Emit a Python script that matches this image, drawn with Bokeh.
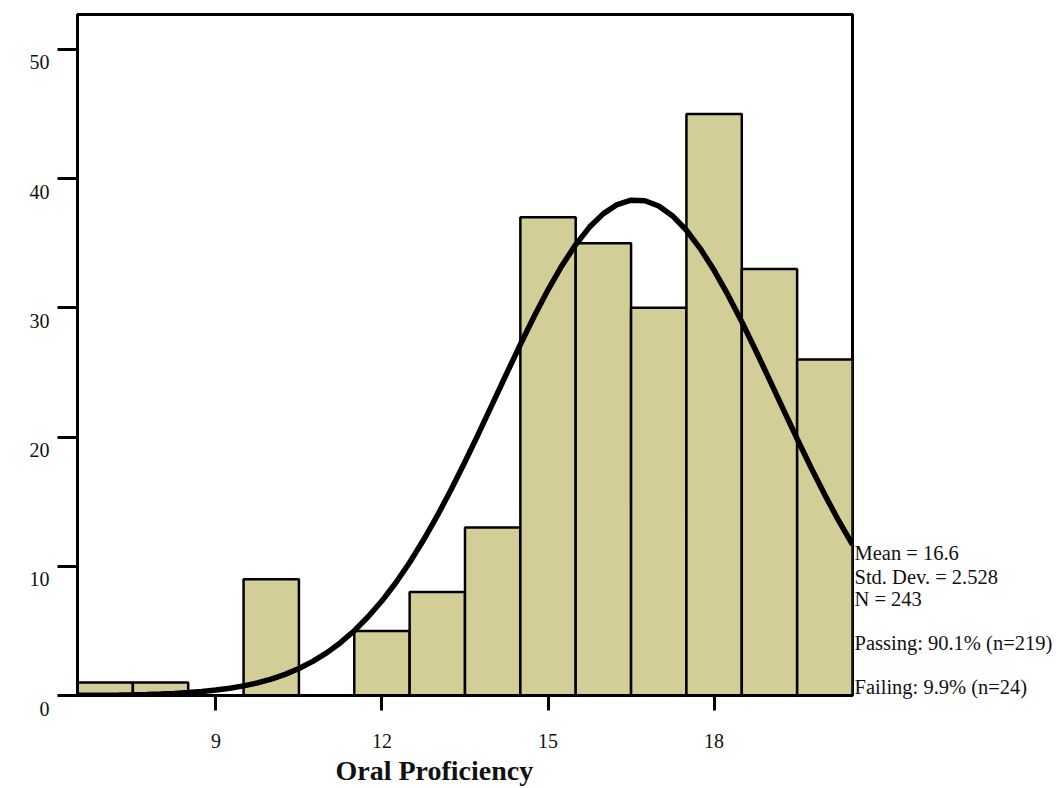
from bokeh.plotting import figure
from bokeh.models import Range1d, FixedTicker, ColumnDataSource, LinearAxis, Title
from bokeh.embed import file_html
from bokeh.resources import INLINE

# ---- data ----
bin_centers = [7, 8, 9, 10, 11, 12, 13, 14, 15, 16, 17, 18, 19, 20]
counts = [1, 1, 0, 9, 0, 5, 8, 13, 37, 35, 30, 45, 33, 26]

curve_x = [6.5, 6.75, 7.0, 7.25, 7.5, 7.75, 8.0, 8.25, 8.5, 8.75, 9.0, 9.25, 9.5, 9.75,
           10.0, 10.25, 10.5, 10.75, 11.0, 11.25, 11.5, 11.75, 12.0, 12.25, 12.5, 12.75,
           13.0, 13.25, 13.5, 13.75, 14.0, 14.25, 14.5, 14.75, 15.0, 15.25, 15.5, 15.75,
           16.0, 16.25, 16.5, 16.75, 17.0, 17.25, 17.5, 17.75, 18.0, 18.25, 18.5, 18.75,
           19.0, 19.25, 19.5, 19.75, 20.0, 20.25, 20.5]
curve_y = [0.013, 0.019, 0.028, 0.041, 0.059, 0.084, 0.118, 0.164, 0.226, 0.309, 0.418,
           0.560, 0.743, 0.976, 1.270, 1.636, 2.087, 2.637, 3.298, 4.085, 5.012, 6.089,
           7.326, 8.727, 10.294, 12.026, 13.913, 15.939, 18.081, 20.314, 22.599, 24.896,
           27.160, 29.342, 31.390, 33.254, 34.886, 36.242, 37.285, 37.984, 38.320, 38.283,
           37.873, 37.103, 35.995, 34.580, 32.898, 30.993, 28.913, 26.710, 24.437, 22.139,
           19.862, 17.645, 15.524, 13.524, 11.667]

x_ticks = [9, 12, 15, 18]
y_ticks = [0, 10, 20, 30, 40, 50]

x_title = "Oral Proficiency"
stats_lines = ["Mean = 16.6", "Std. Dev. = 2.528", "N = 243",
               "Passing: 90.1% (n=219)", "Failing: 9.9% (n=24)"]
stats_at = [10.99, 9.18, 7.46, 4.08, 0.67]   # vertical anchor of each stats line (count units)

FONT = "Liberation Serif"
BAR = "#D3CE98"
INK = "#111111"

p = figure(frame_width=775, frame_height=681,
           min_border_left=77, min_border_right=204,
           min_border_top=14, min_border_bottom=93,
           x_range=Range1d(6.5, 20.5), y_range=Range1d(0, 52.69),
           output_backend="svg", toolbar_location=None,
           background_fill_color="white", border_fill_color="white")

p.xgrid.visible = False
p.ygrid.visible = False
p.outline_line_color = "black"
p.outline_line_width = 3

src = ColumnDataSource(dict(
    left=[c - 0.5 for c in bin_centers],
    right=[c + 0.5 for c in bin_centers],
    top=counts,
    bottom=[0] * len(counts),
))
p.quad(left="left", right="right", top="top", bottom="bottom", source=src,
       fill_color=BAR, line_color="black", line_width=2.5)

p.line(curve_x, curve_y, line_color="black", line_width=5.5)

# x axis
xa = p.xaxis[0]
xa.ticker = FixedTicker(ticks=x_ticks)
xa.minor_tick_line_color = None
xa.major_tick_out = 15
xa.major_tick_in = 0
xa.major_tick_line_width = 3
xa.major_tick_line_color = "black"
xa.axis_line_width = 3
xa.axis_line_color = "black"
xa.major_label_text_font = FONT
xa.major_label_text_font_size = "20px"
xa.major_label_text_color = INK
xa.major_label_standoff = 23

# y axis
ya = p.yaxis[0]
ya.ticker = FixedTicker(ticks=y_ticks)
ya.minor_tick_line_color = None
ya.major_tick_out = 20
ya.major_tick_in = 0
ya.major_tick_line_width = 3
ya.major_tick_line_color = "black"
ya.axis_line_width = 3
ya.axis_line_color = "black"
ya.major_label_text_font = FONT
ya.major_label_text_font_size = "20px"
ya.major_label_text_color = INK
ya.major_label_standoff = 8
ya.major_label_overrides = {v: "\n" + str(v) for v in y_ticks}

# statistics block on the right, as labels of a bare right-hand axis
ra = LinearAxis(ticker=FixedTicker(ticks=stats_at),
                major_label_overrides={v: t for v, t in zip(stats_at, stats_lines)},
                axis_line_color=None, major_tick_line_color=None,
                minor_tick_line_color=None, major_tick_out=0, major_tick_in=0,
                major_label_standoff=2, major_label_text_font=FONT,
                major_label_text_font_size="20.5px", major_label_text_color=INK)
p.add_layout(ra, "right")

# x title, left of centre as in the reference
p.add_layout(Title(text=x_title, align="left", offset=258, text_font=FONT,
                   text_font_size="28px", text_font_style="bold",
                   text_color=INK, standoff=4), "below")

open("out.html", "w").write(file_html(p, INLINE))
